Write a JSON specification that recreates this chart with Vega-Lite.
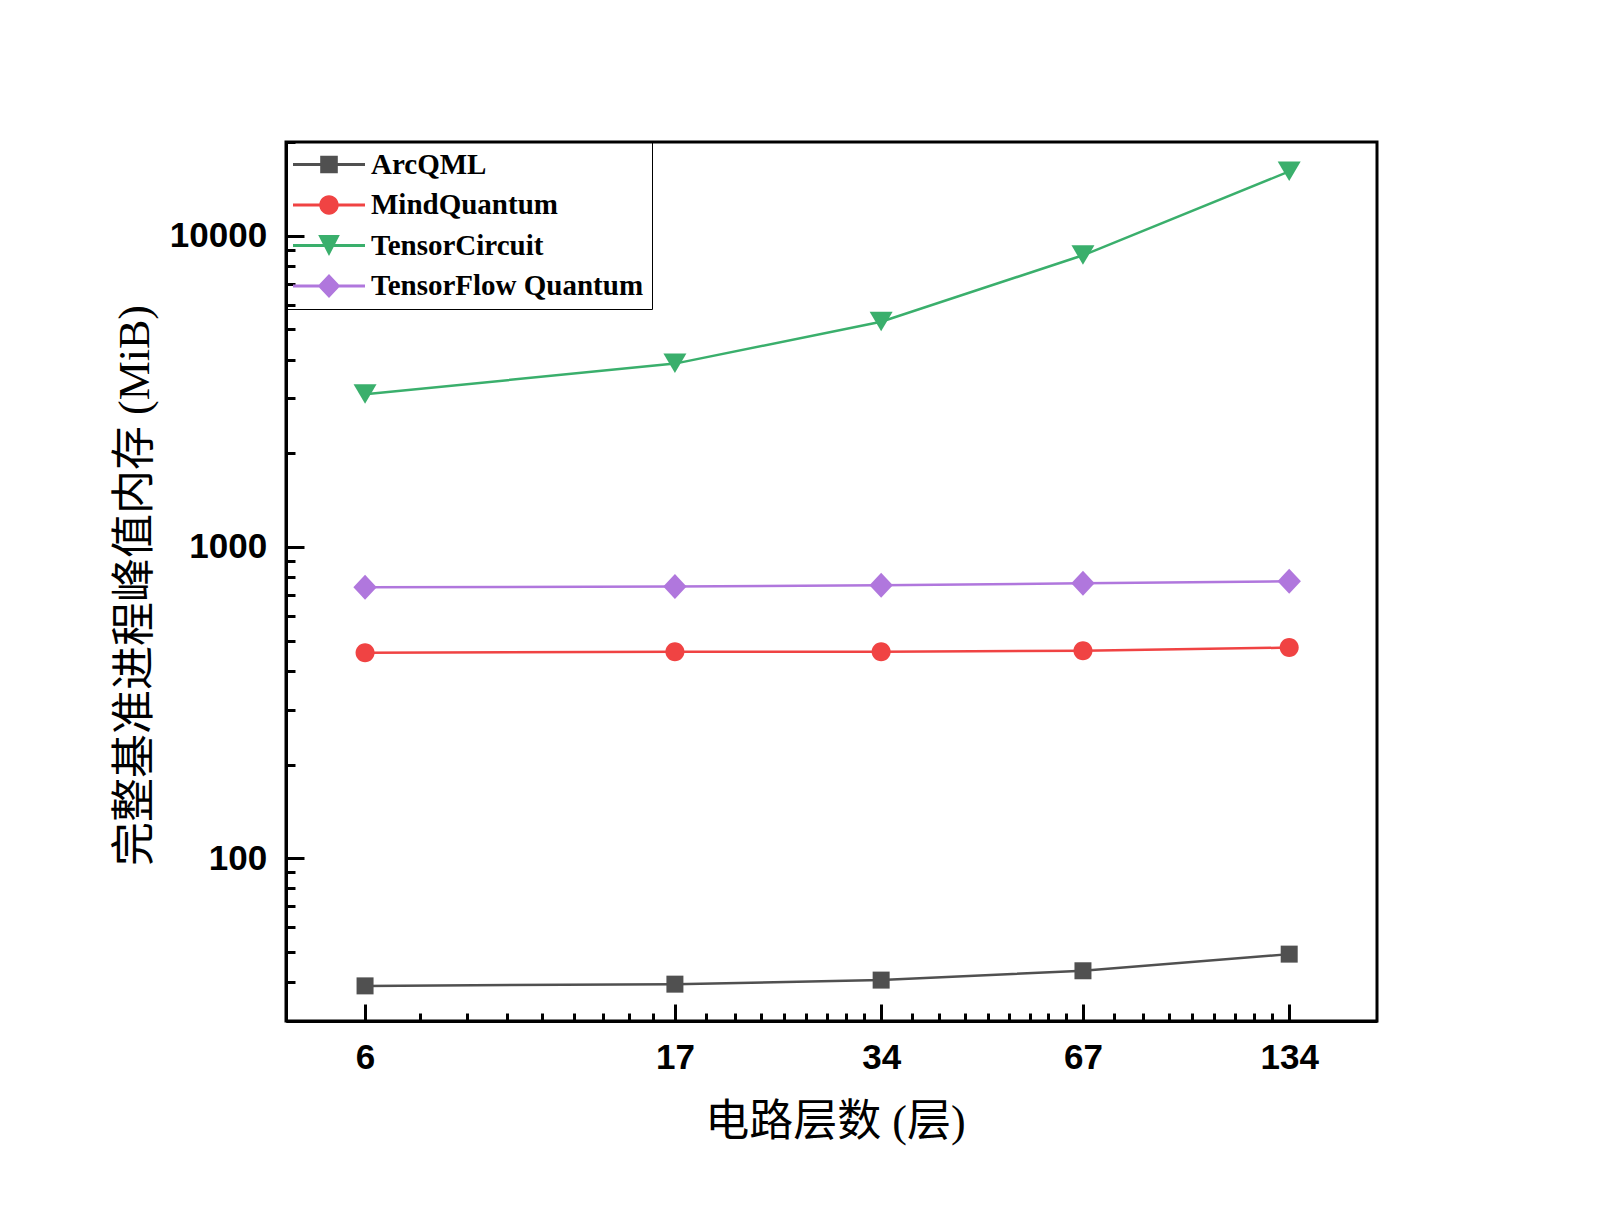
{
  "$schema": "https://vega.github.io/schema/vega-lite/v6.json",
  "autosize": {"type": "none"},
  "width": 1091,
  "height": 879,
  "padding": {"left": 286, "top": 142, "right": 223, "bottom": 204},
  "background": "white",
  "config": {
    "view": {"stroke": "black", "strokeWidth": 3},
    "axis": {
      "grid": false,
      "domainColor": "black",
      "domainWidth": 3,
      "tickColor": "black",
      "tickWidth": 3,
      "labelFont": "Liberation Sans",
      "labelFontSize": 35,
      "labelFontWeight": "bold",
      "labelColor": "black",
      "labelOverlap": false,
      "labelFlush": false,
      "labelBound": false,
      "titleFont": "Liberation Serif, Noto Sans CJK SC",
      "titleFontSize": 44,
      "titleFontWeight": "normal",
      "titleColor": "black",
      "zindex": 1
    }
  },
  "data": {
    "values": [
      {"layers": 6, "mem": 38.9, "series": "ArcQML"},
      {"layers": 17, "mem": 39.4, "series": "ArcQML"},
      {"layers": 34, "mem": 40.6, "series": "ArcQML"},
      {"layers": 67, "mem": 43.5, "series": "ArcQML"},
      {"layers": 134, "mem": 49.2, "series": "ArcQML"},
      {"layers": 6, "mem": 457, "series": "MindQuantum"},
      {"layers": 17, "mem": 461, "series": "MindQuantum"},
      {"layers": 34, "mem": 461, "series": "MindQuantum"},
      {"layers": 67, "mem": 464, "series": "MindQuantum"},
      {"layers": 134, "mem": 475, "series": "MindQuantum"},
      {"layers": 6, "mem": 3095, "series": "TensorCircuit"},
      {"layers": 17, "mem": 3882, "series": "TensorCircuit"},
      {"layers": 34, "mem": 5294, "series": "TensorCircuit"},
      {"layers": 67, "mem": 8650, "series": "TensorCircuit"},
      {"layers": 134, "mem": 16085, "series": "TensorCircuit"},
      {"layers": 6, "mem": 742, "series": "TensorFlow Quantum"},
      {"layers": 17, "mem": 747, "series": "TensorFlow Quantum"},
      {"layers": 34, "mem": 753, "series": "TensorFlow Quantum"},
      {"layers": 67, "mem": 764, "series": "TensorFlow Quantum"},
      {"layers": 134, "mem": 776, "series": "TensorFlow Quantum"}
    ]
  },
  "encoding": {
    "x": {
      "field": "layers",
      "type": "quantitative",
      "scale": {"type": "log", "domain": [4.6, 180], "nice": false, "zero": false},
      "axis": {
        "title": "电路层数 (层)",
        "titleX": 549,
        "titleY": 101,
        "titleBaseline": "middle",
        "titleAlign": "center",
        "format": "d",
        "values": [6, 7.2222, 8.4444, 9.6667, 10.8889, 12.1111, 13.3333, 14.5556, 15.7778, 17, 18.8889, 20.7778, 22.6667, 24.5556, 26.4444, 28.3333, 30.2222, 32.1111, 34, 37.6667, 41.3333, 45, 48.6667, 52.3333, 56, 59.6667, 63.3333, 67, 74.4444, 81.8889, 89.3333, 96.7778, 104.2222, 111.6667, 119.1111, 126.5556, 134],
        "labelExpr": "indexof([6,17,34,67,134], datum.value) >= 0 ? datum.label : ''",
        "tickSize": {"condition": {"test": "indexof([6,17,34,67,134], datum.value) >= 0", "value": -17}, "value": -8},
        "labelPadding": 36.5
      }
    },
    "y": {
      "field": "mem",
      "type": "quantitative",
      "scale": {"type": "log", "domain": [30, 20000], "nice": false, "zero": false},
      "axis": {
        "title": "完整基准进程峰值内存 (MiB)",
        "titleX": -151,
        "titleY": 443,
        "titleAngle": -90,
        "titleBaseline": "middle",
        "titleAlign": "center",
        "format": "d",
        "values": [30, 40, 50, 60, 70, 80, 90, 100, 200, 300, 400, 500, 600, 700, 800, 900, 1000, 2000, 3000, 4000, 5000, 6000, 7000, 8000, 9000, 10000, 20000],
        "labelExpr": "datum.value == 100 || datum.value == 1000 || datum.value == 10000 ? datum.label : ''",
        "tickSize": {"condition": {"test": "datum.value == 100 || datum.value == 1000 || datum.value == 10000", "value": -18}, "value": -9},
        "labelPadding": 37.3
      }
    },
    "color": {
      "field": "series",
      "type": "nominal",
      "scale": {
        "domain": ["ArcQML", "MindQuantum", "TensorCircuit", "TensorFlow Quantum"],
        "range": ["#505050", "#f04343", "#3aaf6c", "#b077dd"]
      },
      "legend": {
        "title": null,
        "orient": "top-left",
        "offset": 0,
        "padding": 8,
        "strokeColor": "black",
        "symbolSize": 400,
        "symbolOffset": 20.5,
        "labelOffset": 27.5,
        "labelFont": "Liberation Serif",
        "labelFontWeight": "bold",
        "labelFontSize": 29,
        "labelColor": "black",
        "labelLimit": 0,
        "rowPadding": 10.5,
        "symbolStrokeWidth": 0,
        "symbolOpacity": 1
      }
    }
  },
  "layer": [
    {
      "mark": {"type": "point", "filled": true, "size": 400, "opacity": 0},
      "encoding": {
        "shape": {
          "field": "series",
          "type": "nominal",
          "legend": {
            "title": null,
            "orient": "top-left",
            "offset": 0,
            "padding": 8,
            "strokeColor": "black",
            "symbolSize": 400,
            "symbolOffset": 20.5,
            "labelOffset": 27.5,
            "labelFont": "Liberation Serif",
            "labelFontWeight": "bold",
            "labelFontSize": 29,
            "labelColor": "black",
            "labelLimit": 0,
            "rowPadding": 10.5,
            "symbolStrokeWidth": 0,
            "symbolOpacity": 1
          },
          "scale": {
            "domain": ["ArcQML", "MindQuantum", "TensorCircuit", "TensorFlow Quantum"],
            "range": [
              "M-3.6,-0.14L3.6,-0.14L3.6,0.14L-3.6,0.14Z M-0.88,-0.88L0.88,-0.88L0.88,0.88L-0.88,0.88Z",
              "M-3.6,-0.14L3.6,-0.14L3.6,0.14L-3.6,0.14Z M-0.97,0A0.97,0.97,0,1,1,0.97,0A0.97,0.97,0,1,1,-0.97,0Z",
              "M-3.6,-0.14L3.6,-0.14L3.6,0.14L-3.6,0.14Z M-1.08,-1.05L1.08,-1.05L0,1.05Z",
              "M-3.6,-0.14L3.6,-0.14L3.6,0.14L-3.6,0.14Z M0,-1.2L1.13,0L0,1.2L-1.13,0Z"
            ]
          }
        }
      }
    },
    {
      "mark": {"type": "line", "strokeWidth": 2.5}
    },
    {
      "transform": [{"filter": {"field": "series", "equal": "ArcQML"}}],
      "mark": {"type": "point", "filled": true, "size": 400, "opacity": 1, "shape": "M-0.85,-0.85L0.85,-0.85L0.85,0.85L-0.85,0.85Z"}
    },
    {
      "transform": [{"filter": {"field": "series", "equal": "MindQuantum"}}],
      "mark": {"type": "point", "filled": true, "size": 400, "opacity": 1, "shape": "M-0.95,0A0.95,0.95,0,1,1,0.95,0A0.95,0.95,0,1,1,-0.95,0Z"}
    },
    {
      "transform": [{"filter": {"field": "series", "equal": "TensorCircuit"}}],
      "mark": {"type": "point", "filled": true, "size": 400, "opacity": 1, "shape": "M-1.15,-1L1.15,-1L0,0.95Z"}
    },
    {
      "transform": [{"filter": {"field": "series", "equal": "TensorFlow Quantum"}}],
      "mark": {"type": "point", "filled": true, "size": 400, "opacity": 1, "shape": "M0,-1.25L1.17,0L0,1.25L-1.17,0Z"}
    }
  ]
}
